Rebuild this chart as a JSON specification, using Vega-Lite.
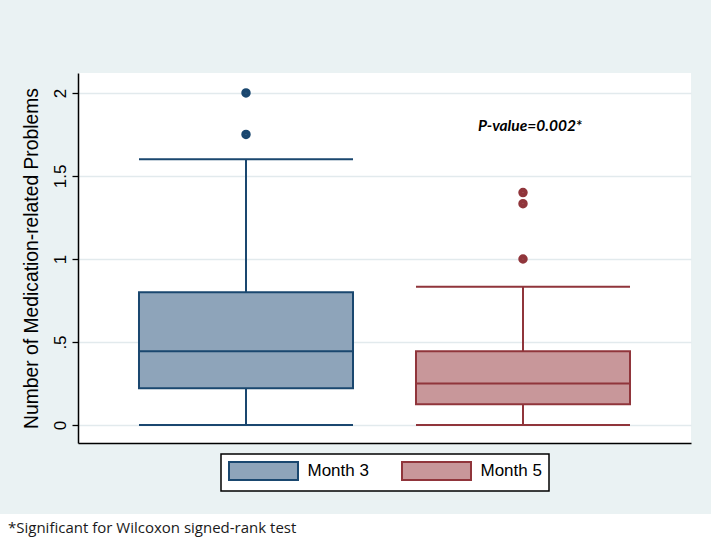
{
  "$schema": "https://vega.github.io/schema/vega-lite/v6.json",
  "background": "#EAF2F3",
  "padding": {"top": 73, "left": 0, "right": 0, "bottom": 0},
  "spacing": 22,
  "datasets": {
    "boxes": [
      {"month": "Month 3", "lower": 0, "q1": 0.222, "median": 0.444, "q3": 0.8, "upper": 1.6},
      {"month": "Month 5", "lower": 0, "q1": 0.125, "median": 0.25, "q3": 0.444, "upper": 0.833}
    ],
    "outliers": [
      {"month": "Month 3", "value": 2.0},
      {"month": "Month 3", "value": 1.75},
      {"month": "Month 5", "value": 1.4},
      {"month": "Month 5", "value": 1.333},
      {"month": "Month 5", "value": 1.0}
    ],
    "annot": [
      {"month": "Month 5", "y": 1.8, "label": "P-value=0.002*"}
    ],
    "note": [
      {"pos": 0, "text": "*Significant for Wilcoxon signed-rank test"}
    ],
    "empty": []
  },
  "resolve": {"legend": {"fill": "independent", "stroke": "independent"}},
  "config": {
    "view": {"stroke": null},
    "axisY": {
      "labelFont": "Liberation Sans",
      "labelFontSize": 17,
      "labelColor": "black",
      "labelAngle": 270,
      "labelPadding": 3,
      "tickSize": 6,
      "tickColor": "black",
      "tickWidth": 1.3,
      "domainColor": "black",
      "domainWidth": 1.5,
      "gridColor": "#E2EAED",
      "gridWidth": 1.3,
      "titleFont": "Liberation Sans",
      "titleFontSize": 19.3,
      "titleFontWeight": "normal",
      "titleColor": "black",
      "titlePadding": 10
    },
    "legend": {
      "orient": "bottom",
      "direction": "horizontal",
      "offset": 11,
      "padding": 7,
      "fillColor": "white",
      "strokeColor": "black",
      "strokeWidth": 1.5,
      "labelFont": "Liberation Sans",
      "labelFontSize": 17,
      "labelColor": "black",
      "labelOffset": 34,
      "symbolOffset": 25.5,
      "columnPadding": 29,
      "symbolStrokeWidth": 2,
      "layout": {"bottom": {"anchor": "middle"}}
    }
  },
  "vconcat": [
    {
      "spacing": 0,
      "resolve": {"legend": {"fill": "independent", "stroke": "independent"}},
      "hconcat": [
        {
          "width": 22,
          "height": 370,
          "data": {"name": "empty"},
          "mark": {"type": "text"},
          "encoding": {}
        },
        {
          "width": 613,
          "height": 370,
          "view": {"fill": "white", "stroke": null},
          "encoding": {
            "x": {
              "field": "month",
              "type": "nominal",
              "scale": {"domain": ["Month 3", "Month 5"], "paddingInner": 0.2274, "paddingOuter": 0.2202},
              "axis": {"title": null, "labels": false, "ticks": false, "grid": false, "domain": true, "domainColor": "black", "domainWidth": 1.5}
            }
          },
          "layer": [
            {
              "data": {"name": "boxes"},
              "mark": {"type": "bar", "strokeWidth": 2},
              "encoding": {
                "y": {
                  "field": "q1", "type": "quantitative",
                  "scale": {"domain": [-0.108, 2.12], "nice": false, "zero": false},
                  "title": "Number of Medication-related Problems",
                  "axis": {"values": [0, 0.5, 1, 1.5, 2], "labelExpr": "datum.value == 0.5 ? '.5' : format(datum.value, '~g')"}
                },
                "y2": {"field": "q3"},
                "fill": {
                  "field": "month", "type": "nominal",
                  "scale": {"domain": ["Month 3", "Month 5"], "range": ["#8EA4BA", "#C8979A"]},
                  "legend": {"title": null, "symbolType": "M-3.833,-1H3.833V1H-3.833Z", "symbolSize": 324}
                },
                "stroke": {
                  "field": "month", "type": "nominal",
                  "scale": {"domain": ["Month 3", "Month 5"], "range": ["#1A476F", "#90353B"]},
                  "legend": {"title": null, "symbolType": "M-3.833,-1H3.833V1H-3.833Z", "symbolSize": 324}
                }
              }
            },
            {
              "data": {"name": "boxes"},
              "mark": {"type": "rule", "strokeWidth": 2},
              "encoding": {
                "y": {"field": "lower", "type": "quantitative", "scale": {"domain": [-0.108, 2.12], "nice": false, "zero": false}, "title": "Number of Medication-related Problems"},
                "y2": {"field": "q1"},
                "stroke": {"field": "month", "type": "nominal"}
              }
            },
            {
              "data": {"name": "boxes"},
              "mark": {"type": "rule", "strokeWidth": 2},
              "encoding": {
                "y": {"field": "q3", "type": "quantitative", "scale": {"domain": [-0.108, 2.12], "nice": false, "zero": false}, "title": "Number of Medication-related Problems"},
                "y2": {"field": "upper"},
                "stroke": {"field": "month", "type": "nominal"}
              }
            },
            {
              "data": {"name": "boxes"},
              "mark": {"type": "bar", "filled": false, "strokeWidth": 2},
              "encoding": {
                "y": {"field": "upper", "type": "quantitative", "scale": {"domain": [-0.108, 2.12], "nice": false, "zero": false}, "title": "Number of Medication-related Problems"},
                "y2": {"field": "upper"},
                "stroke": {"field": "month", "type": "nominal"}
              }
            },
            {
              "data": {"name": "boxes"},
              "mark": {"type": "bar", "filled": false, "strokeWidth": 2},
              "encoding": {
                "y": {"field": "lower", "type": "quantitative", "scale": {"domain": [-0.108, 2.12], "nice": false, "zero": false}, "title": "Number of Medication-related Problems"},
                "y2": {"field": "lower"},
                "stroke": {"field": "month", "type": "nominal"}
              }
            },
            {
              "data": {"name": "boxes"},
              "mark": {"type": "bar", "filled": false, "strokeWidth": 2},
              "encoding": {
                "y": {"field": "median", "type": "quantitative", "scale": {"domain": [-0.108, 2.12], "nice": false, "zero": false}, "title": "Number of Medication-related Problems"},
                "y2": {"field": "median"},
                "stroke": {"field": "month", "type": "nominal"}
              }
            },
            {
              "data": {"name": "outliers"},
              "mark": {"type": "point", "filled": false, "size": 20, "strokeWidth": 5, "opacity": 1},
              "encoding": {
                "y": {"field": "value", "type": "quantitative", "scale": {"domain": [-0.108, 2.12], "nice": false, "zero": false}, "title": "Number of Medication-related Problems"},
                "stroke": {"field": "month", "type": "nominal"}
              }
            },
            {
              "data": {"name": "annot"},
              "mark": {"type": "text", "font": "Lato", "fontSize": 15.5, "fontStyle": "italic", "fontWeight": "bold", "color": "black", "dx": 7, "baseline": "middle", "align": "center"},
              "encoding": {
                "y": {"field": "y", "type": "quantitative", "scale": {"domain": [-0.108, 2.12], "nice": false, "zero": false}, "title": "Number of Medication-related Problems"},
                "text": {"field": "label"}
              }
            }
          ]
        }
      ]
    },
    {
      "width": 711,
      "height": 28,
      "view": {"fill": "white", "stroke": null},
      "data": {"name": "note"},
      "mark": {"type": "text", "font": "Open Sans", "fontSize": 15, "color": "#1a1a1a", "align": "left", "baseline": "middle", "dx": 8},
      "encoding": {
        "x": {"field": "pos", "type": "quantitative", "scale": {"domain": [0, 1]}, "axis": null},
        "text": {"field": "text"}
      }
    }
  ]
}
